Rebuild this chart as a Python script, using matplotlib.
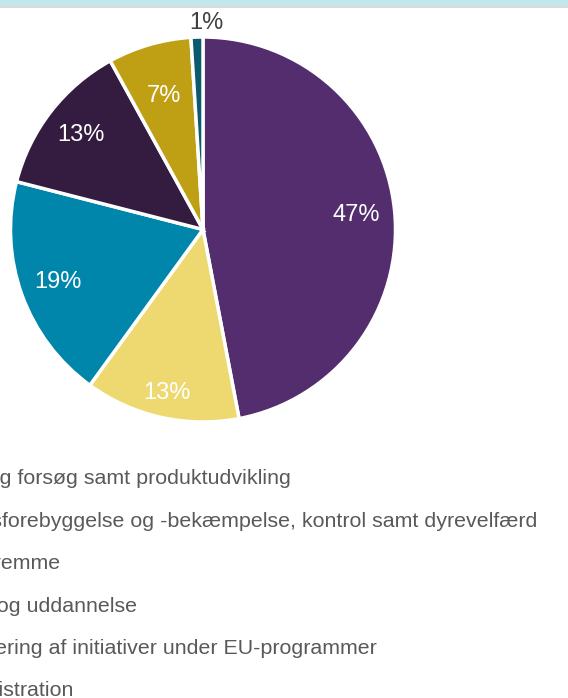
import matplotlib
matplotlib.use("Agg")
import matplotlib.pyplot as plt
from matplotlib.patches import Rectangle
import numpy as np

# Data
categories = [
    "Forskning og forsøg samt produktudvikling",
    "Sygdomsforebyggelse og -bekæmpelse, kontrol samt dyrevelfærd",
    "Afsætningsfremme",
    "Rådgivning og uddannelse",
    "Medfinansiering af initiativer under EU-programmer",
    "Administration",
]
# pie slice order (clockwise from top)
slice_values = [47, 13, 19, 13, 7, 1]
slice_colors = ["#532D6D", "#EDD970", "#0086AB", "#341C40", "#BFA015", "#0B5A6E"]
pct_labels = ["47%", "13%", "19%", "13%", "7%", "1%"]

W, H = 568, 698
fig = plt.figure(figsize=(W / 100, H / 100), dpi=100)
fig.patch.set_facecolor("white")

# top banner
fig.patches.append(Rectangle((0, 1 - 6 / H), 1, 6 / H, transform=fig.transFigure,
                             facecolor="#C2E8EC", edgecolor="none", zorder=0))
fig.patches.append(Rectangle((0, 1 - 8 / H), 1, 2 / H, transform=fig.transFigure,
                             facecolor="#DADADA", edgecolor="none", zorder=0))

cx, cy, r = 203, 229.5, 192.5
ax = fig.add_axes([(cx - r) / W, (H - cy - r) / H, 2 * r / W, 2 * r / H])
wedges, _ = ax.pie(slice_values, colors=slice_colors, startangle=90, counterclock=False,
                   radius=1, wedgeprops=dict(edgecolor="white", linewidth=2.5))
ax.set_xlim(-1, 1)
ax.set_ylim(-1, 1)
ax.set_aspect("equal")
ax.axis("off")

dists = [0.8, 0.87, 0.8, 0.8, 0.72, 1.08]
for w, lab, d in zip(wedges, pct_labels, dists):
    ang = np.deg2rad((w.theta1 + w.theta2) / 2)
    x, y = d * np.cos(ang), d * np.sin(ang)
    color = "white"
    if lab == "1%":
        x, y = 0.02, 1.075
        color = "#404040"
    ax.text(x, y, lab, ha="center", va="center", color=color, fontsize=17,
            family="Liberation Sans", clip_on=False)

# legend texts (clipped on the left, right-aligned at their visible ends)
ends = [291, 537, 61, 137, 377, 74]
for i, (cat, xe) in enumerate(zip(categories, ends)):
    yb = 484.5 + 42.4 * i
    fig.text(xe / W, 1 - yb / H, cat, ha="right", va="baseline", color="#595959",
             fontsize=15.4, family="Liberation Sans")

fig.savefig("out.png", dpi=100)
